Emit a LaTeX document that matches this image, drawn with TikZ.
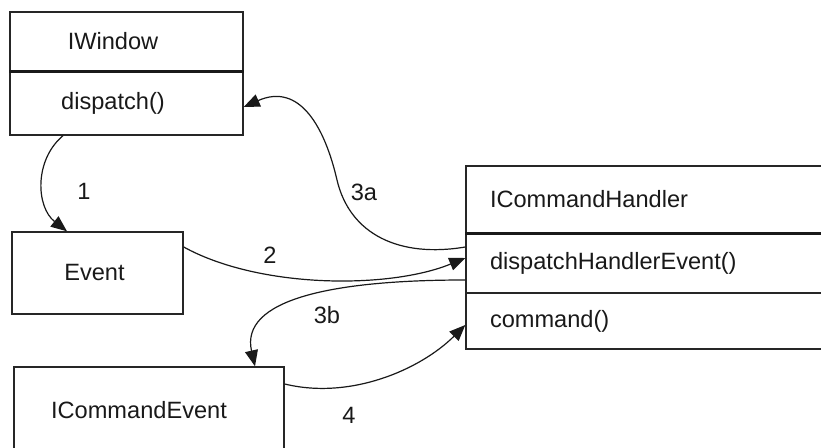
\documentclass[tikz,border=0pt]{standalone}
\usepackage{fontspec}
\setmainfont{Liberation Sans}
\usetikzlibrary{arrows.meta,calc}

\tikzstyle{classbox} = [rectangle, draw=black!85, line width=0.7pt, text=black!90, align=center, inner sep=0pt, font=\fontsize{11.8pt}{14pt}\selectfont]
\tikzstyle{membox} = [classbox, align=left, text width=161pt, inner xsep=12pt]
\tikzstyle{divider} = [draw=black!90, line width=1.4pt]
\tikzstyle{callarrow} = [-{Triangle[length=8pt,width=6.5pt]}, draw=black!90, line width=0.6pt]
\tikzstyle{callno} = [text=black!90, font=\fontsize{11.8pt}{14pt}\selectfont]

\begin{document}
\begin{tikzpicture}[x=0.5pt, y=-0.5pt]
        \useasboundingbox (0,0) rectangle (821,448);
        \clip (0,0) rectangle (821,448);
        % Classes and objects
        \node (wtitle) at (126.5,41.5) [classbox, minimum width=116.5pt, minimum height=29.5pt] {IWindow\hspace*{13.5pt}};
        \node (wmeth) at (126.5,103) [classbox, minimum width=116.5pt, minimum height=32pt] {dispatch()\hspace*{13.5pt}};
        \node (event) at (97.5,273) [classbox, minimum width=85.5pt, minimum height=41pt] {Event\hspace*{3pt}};
        \node (cevent) at (149,410) [classbox, minimum width=135pt, minimum height=43pt] {ICommandEvent\hspace*{10pt}};
        \node (htitle) at (651,199.5) [membox, minimum height=33.5pt] {ICommandHandler};
        \node (hdisp) at (651,263) [membox, minimum height=30pt] {dispatchHandlerEvent()};
        \node (hcmd) at (651,321) [membox, minimum height=28pt] {command()};
        \draw[divider] (wtitle.south west) -- (wtitle.south east);
        \draw[divider] (htitle.south west) -- (htitle.south east);

        % Calls
        \draw[callarrow] ($(wmeth.south)+(-63.5,0)$) .. controls (34,160) and (36,207) .. ($(event.north)+(-30.5,0)$);
        \draw[callarrow] ($(event.east)+(0,-26)$) .. controls (260,289) and (390,289) .. ($(hdisp.west)+(0,-5)$);
        \draw[callarrow] ($(hdisp.west)+(0,-16)$) .. controls (400,258) and (350,235) .. (337,180)
            .. controls (325,128) and (300,82) .. ($(wmeth.east)+(0,4)$);
        \draw[callarrow] ($(hdisp.west)+(0,17)$) .. controls (330,280) and (240,300) .. ($(cevent.north)+(106,0)$);
        \draw[callarrow] ($(cevent.east)+(0,-26)$) .. controls (350,400) and (420,370) .. ($(hcmd.west)+(0,4)$);

        \node[callno] (n1) at (84,191) {1};
        \node[callno] (n2) at (270,255) {2};
        \node[callno] (n3a) at (364,192) {3a};
        \node[callno] (n3b) at (327,315) {3b};
        \node[callno] (n4) at (349,415) {4};
    \end{tikzpicture}
\end{document}
